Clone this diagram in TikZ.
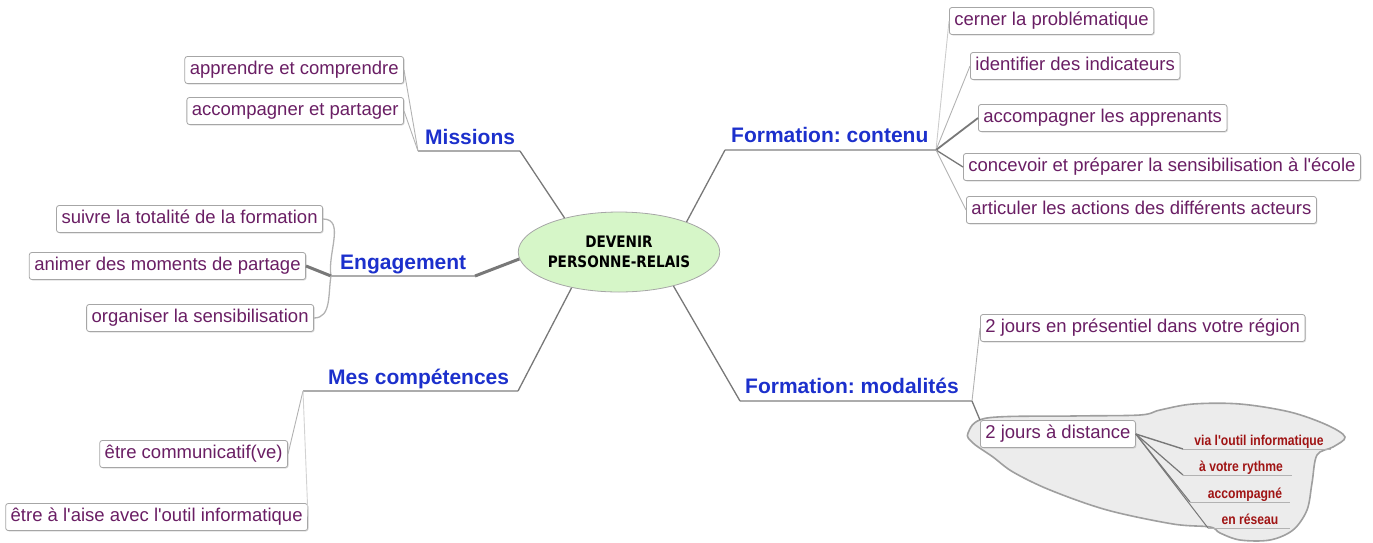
\documentclass[tikz,border=0pt]{standalone}
\usepackage{fontspec}
\setmainfont{Liberation Sans}[Ligatures=TeXOff]
\newfontfamily\rootfont{DejaVu Sans}[FakeStretch=0.86]
\newfontfamily\leaffont{Liberation Sans}[FakeStretch=0.85, Ligatures=TeXOff]
\usetikzlibrary{shapes.geometric,shadows}
\definecolor{topicblue}{RGB}{28,48,204}
\definecolor{subpurple}{RGB}{106,30,100}
\definecolor{subred}{RGB}{160,20,20}
\definecolor{rootgreen}{RGB}{214,246,200}
\definecolor{cloudgray}{RGB}{236,236,236}
\definecolor{linegray}{RGB}{120,120,120}
\frenchspacing
\begin{document}
\begin{tikzpicture}[x=1pt,y=-1pt,
  box/.style={draw=gray!70, line width=0.8pt, rounded corners=2.5pt, fill=white, text=subpurple,
    font=\fontsize{18.5}{20}\selectfont, inner xsep=5pt, inner ysep=0pt, minimum height=27pt,
    text height=13.5pt, text depth=3.8pt,
    drop shadow={shadow xshift=1pt, shadow yshift=-1pt, opacity=0.25}},
  topic/.style={text=topicblue, font=\fontsize{21}{22}\selectfont\bfseries\frenchspacing, inner sep=0pt, anchor=base west},
  leaf/.style={text=subred, font=\leaffont\bfseries\fontsize{14.3}{15}\selectfont, inner sep=0pt, anchor=base},
  uline/.style={draw=gray!65, line width=1.6pt},
  rline/.style={draw=gray!60, line width=1pt},
  branch/.style={draw=linegray, line width=1.3pt},
  twig/.style={draw=gray!60, line width=0.9pt},
]
\useasboundingbox (0,0) rectangle (1373,542);

% cloud
\draw[draw=gray!75, line width=1.6pt, fill=cloudgray] plot[smooth cycle, tension=0.55] coordinates {
  (968,433) (987,418) (1073,416) (1140,415) (1160,410) (1193,404) (1240,404) (1290,412)
  (1327,425) (1345,437) (1333,447) (1317,455) (1312,483) (1307,510) (1293,530)
  (1270,540) (1240,540) (1220,533) (1210,527) (1173,524) (1107,510) (1050,490)
  (1013,472) (993,457) (973,443)};

% root
\node[ellipse, draw=gray!70, line width=0.8pt, fill=rootgreen, minimum width=166pt, minimum height=80pt,
  inner sep=0pt, align=center, font=\rootfont\bfseries\fontsize{15.8}{20.5}\selectfont] (root) at (619,252)
  {DEVENIR\\PERSONNE-RELAIS};

% topics
\node[topic] (mis) at (425,144) {Missions};
\node[topic] (eng) at (340,269) {Engagement};
\node[topic] (comp) at (328,384) {Mes compétences};
\node[topic] (fcont) at (731,142) {Formation: contenu};
\node[topic] (fmod) at (745,393) {Formation: modalités};

\coordinate (misL) at (418,151); \coordinate (misR) at (520,151);
\coordinate (engL) at (331,276); \coordinate (engR) at (475,276);
\coordinate (compL) at (303,391); \coordinate (compR) at (518,391);
\coordinate (fcontL) at (725,150); \coordinate (fcontR) at (936,150);
\coordinate (fmodL) at (740,401); \coordinate (fmodR) at (972,401);

\draw[uline] (misL) -- (misR);
\draw[uline] (engL) -- (engR);
\draw[uline] (compL) -- (compR);
\draw[uline] (fcontL) -- (fcontR);
\draw[uline] (fmodL) -- (fmodR);

% main branches
\draw[branch] (root.148) -- (misR);
\draw[branch, line width=3pt] (root.184) -- (engR);
\draw[branch] (root.217) -- (compR);
\draw[branch] (root.24) -- (fcontL);
\draw[branch] (root.328) -- (fmodL);

% subtopic boxes
\node[box, anchor=east] (m1) at (404,70) {apprendre et comprendre};
\node[box, anchor=east] (m2) at (404,111) {accompagner et partager};
\node[box, anchor=east] (e1) at (323,219) {suivre la totalité de la formation};
\node[box, anchor=east] (e2) at (306,266) {animer des moments de partage};
\node[box, anchor=east] (e3) at (314,318) {organiser la sensibilisation};
\node[box, anchor=east] (c1) at (288,454) {être communicatif(ve)};
\node[box, anchor=east] (c2) at (308,517) {être à l'aise avec l'outil informatique};
\node[box, anchor=west] (f1) at (949,21) {cerner la problématique};
\node[box, anchor=west] (f2) at (970,66) {identifier des indicateurs};
\node[box, anchor=west] (f3) at (978,118) {accompagner les apprenants};
\node[box, anchor=west] (f4) at (963,167) {concevoir et préparer la sensibilisation à l'école};
\node[box, anchor=west] (f5) at (966,210) {articuler les actions des différents acteurs};
\node[box, anchor=west] (d1) at (980,328) {2 jours en présentiel dans votre région};
\node[box, anchor=west] (d2) at (980,434) {2 jours à distance};

% child connectors
\draw[twig] (misL) -- (m1.east);
\draw[twig] (misL) -- (m2.east);
\draw[twig, line width=1.3pt] (engL) to[out=100,in=0] (e1.east);
\draw[branch, line width=3pt] (engL) -- (e2.east);
\draw[twig, line width=1.3pt] (engL) to[out=-100,in=0] (e3.east);
\draw[twig] (compL) -- (c1.east);
\draw[twig, draw=gray!35] (compL) -- (c2.east);
\draw[twig, draw=gray!40] (fcontR) -- (f1.west);
\draw[twig] (fcontR) -- (f2.west);
\draw[branch, line width=1.8pt] (fcontR) -- (f3.west);
\draw[branch] (fcontR) -- (f4.west);
\draw[twig] (fcontR) -- (f5.west);
\draw[twig] (fmodR) -- (d1.west);
\draw[branch] (fmodR) -- (d2.north west);

% leaves
\node[leaf] (r1) at (1259,445) {via l'outil informatique};
\node[leaf] (r2) at (1241,471) {à votre rythme};
\node[leaf] (r3) at (1245,498) {accompagné};
\node[leaf] (r4) at (1250,524) {en réseau};
\coordinate (r1L) at (1183,449); \coordinate (r1R) at (1331,449);
\coordinate (r2L) at (1183,475); \coordinate (r2R) at (1292,475);
\coordinate (r3L) at (1190,502); \coordinate (r3R) at (1290,502);
\coordinate (r4L) at (1208,528); \coordinate (r4R) at (1290,528);
\draw[rline] (r1L) -- (r1R);
\draw[rline] (r2L) -- (r2R);
\draw[rline] (r3L) -- (r3R);
\draw[rline] (r4L) -- (r4R);
\draw[branch, line width=1.4pt] (d2.east) -- (r1L);
\draw[branch, line width=1.2pt] (d2.east) -- (r2L);
\draw[branch, line width=1.1pt] (d2.east) -- (r3L);
\draw[branch, line width=1pt] (d2.east) -- (r4L);
\end{tikzpicture}
\end{document}
